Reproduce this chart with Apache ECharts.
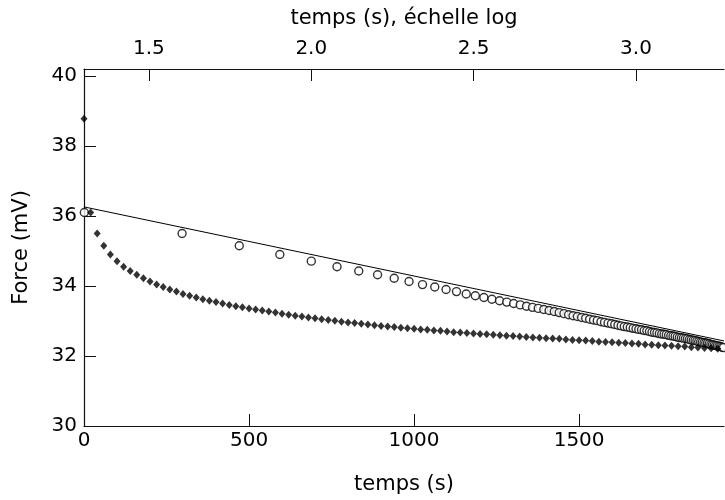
<!DOCTYPE html>
<html>
<head>
<meta charset="utf-8">
<script src="https://cdn.jsdelivr.net/npm/echarts@6/dist/echarts.min.js"></script>
<style>html,body{margin:0;padding:0;background:#fff}#c{width:725px;height:500px}</style>
</head>
<body>
<div id="c"></div>
<script>
// time (s)
var times = [0,20,40,60,80,100,120,140,160,180,200,220,240,260,280,300,320,340,360,380,
  400,420,440,460,480,500,520,540,560,580,600,620,640,660,680,700,720,740,760,780,
  800,820,840,860,880,900,920,940,960,980,1000,1020,1040,1060,1080,1100,1120,1140,1160,1180,
  1200,1220,1240,1260,1280,1300,1320,1340,1360,1380,1400,1420,1440,1460,1480,1500,1520,1540,1560,1580,
  1600,1620,1640,1660,1680,1700,1720,1740,1760,1780,1800,1820,1840,1860,1880,1900,1920,1940];
// force (mV)
var force = [38.78,36.10,35.50,35.15,34.90,34.71,34.55,34.43,34.32,34.22,34.13,34.04,33.97,33.90,33.84,33.77,33.72,33.67,33.62,33.58,
  33.54,33.50,33.46,33.42,33.39,33.36,33.33,33.30,33.27,33.24,33.21,33.18,33.15,33.13,33.10,33.08,33.05,33.03,33.01,32.98,
  32.96,32.94,32.92,32.90,32.88,32.86,32.84,32.83,32.81,32.79,32.78,32.76,32.75,32.73,32.72,32.70,32.68,32.67,32.66,32.64,
  32.63,32.62,32.61,32.59,32.58,32.57,32.56,32.54,32.53,32.52,32.51,32.50,32.49,32.47,32.46,32.45,32.44,32.43,32.41,32.40,
  32.39,32.38,32.37,32.36,32.35,32.33,32.32,32.31,32.30,32.29,32.28,32.27,32.25,32.24,32.23,32.22,32.21,32.20];
// fitted line on log scale (log10 t, force)
var fitLogT = [1.30, 3.271];
var fitForce = [36.26, 32.43];
// tick labels
var bottomTicks = [0, 500, 1000, 1500];
var topTicks = [1.5, 2.0, 2.5, 3.0];
var yTicks = [30, 32, 34, 36, 38, 40];

var diamondData = times.map(function (t, i) { return [t, force[i]]; });
var circleData = [];
times.forEach(function (t, i) { if (t > 0) circleData.push([Math.log10(t), force[i]]); });
var fitData = fitLogT.map(function (x, i) { return [x, fitForce[i]]; });

var font = 'DejaVu Sans';
var fs = 20;
var fsName = 21;
var axisCol = '#111';
var chart = echarts.init(document.getElementById('c'), null, {renderer: 'canvas'});
chart.setOption({
  animation: false,
  backgroundColor: '#fff',
  grid: {left: 84, top: 69, right: 1, bottom: 74, containLabel: false},
  xAxis: [{
    type: 'value', position: 'bottom', min: 0, max: 1939,
    name: 'temps (s)', nameLocation: 'middle', nameGap: 48,
    nameTextStyle: {fontFamily: font, fontSize: fsName, color: '#000'},
    axisLine: {show: true, lineStyle: {color: axisCol, width: 1.2}},
    axisTick: {show: true, inside: true, length: 12, lineStyle: {color: axisCol}, customValues: bottomTicks},
    axisLabel: {fontFamily: font, fontSize: fs, color: '#000', margin: 5, customValues: bottomTicks,
      formatter: function (v) { return String(v); }},
    splitLine: {show: false}
  }, {
    type: 'value', position: 'top', min: 1.3, max: 3.271,
    name: 'temps (s), échelle log', nameLocation: 'middle', nameGap: 40,
    nameTextStyle: {fontFamily: font, fontSize: fsName, color: '#000'},
    axisLine: {show: true, lineStyle: {color: axisCol, width: 1.2}},
    axisTick: {show: true, inside: true, length: 12, lineStyle: {color: axisCol}, customValues: topTicks},
    axisLabel: {fontFamily: font, fontSize: fs, color: '#000', margin: 10, customValues: topTicks,
      formatter: function (v) { return v.toFixed(1); }},
    splitLine: {show: false}
  }],
  yAxis: [{
    type: 'value', min: 30, max: 40.2,
    name: 'Force (mV)', nameLocation: 'middle', nameGap: 52, nameRotate: 90,
    nameTextStyle: {fontFamily: font, fontSize: fsName, color: '#000'},
    axisLine: {show: true, lineStyle: {color: axisCol, width: 1.2}},
    axisTick: {show: true, inside: true, length: 12, lineStyle: {color: axisCol}, customValues: yTicks},
    axisLabel: {fontFamily: font, fontSize: fs, color: '#000', margin: 7, customValues: yTicks},
    splitLine: {show: false}
  }],
  series: [{
    type: 'scatter', xAxisIndex: 1, data: circleData, symbol: 'circle', symbolSize: 8,
    itemStyle: {color: '#fff', borderColor: '#000', borderWidth: 1.4}, z: 2
  }, {
    type: 'scatter', xAxisIndex: 0, data: diamondData, symbol: 'diamond', symbolSize: [7, 8],
    itemStyle: {color: '#000'}, z: 3
  }, {
    type: 'line', xAxisIndex: 1, data: fitData, symbol: 'none',
    lineStyle: {color: '#000', width: 1}, z: 4
  }]
});
</script>
</body>
</html>
